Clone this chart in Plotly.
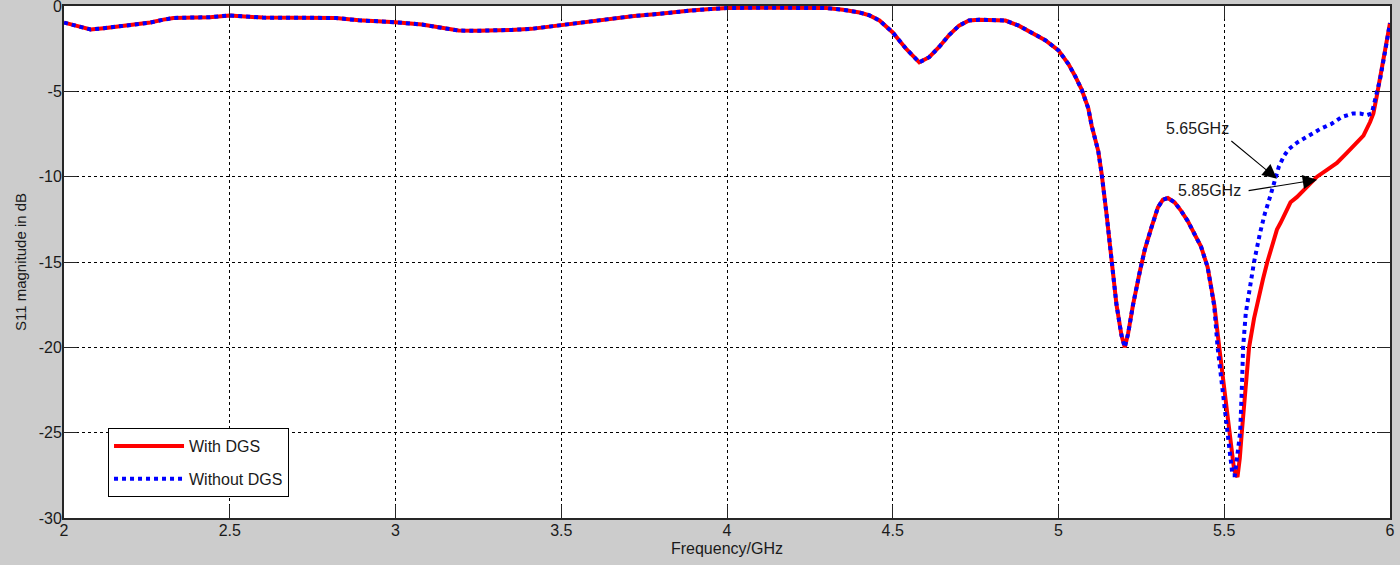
import plotly.graph_objects as go

# shared part of both sweeps (GHz, dB)
freq_common = [2.00, 2.04, 2.08, 2.12, 2.16, 2.20, 2.26, 2.30, 2.33, 2.40, 2.44, 2.50,
               2.55, 2.60, 2.70, 2.82, 2.89, 2.95, 3.00, 3.08, 3.14, 3.19, 3.25, 3.29,
               3.35, 3.41, 3.46, 3.50, 3.57, 3.64, 3.72, 3.79, 3.85, 3.89, 3.95, 4.00,
               4.10, 4.20, 4.30, 4.35, 4.40, 4.43, 4.46, 4.50, 4.54, 4.58, 4.61, 4.64,
               4.67, 4.70, 4.73, 4.76, 4.80, 4.84, 4.88, 4.92, 4.96, 5.00, 5.03, 5.05,
               5.07, 5.09, 5.10, 5.12, 5.13, 5.145, 5.16, 5.175, 5.19, 5.20, 5.21, 5.225,
               5.245, 5.26, 5.28, 5.30, 5.315, 5.33, 5.35, 5.37, 5.39, 5.41, 5.43, 5.45,
               5.465]
s11_common = [-0.97, -1.2, -1.38, -1.3, -1.2, -1.12, -0.97, -0.8, -0.7, -0.67, -0.66, -0.55,
              -0.64, -0.68, -0.69, -0.7, -0.84, -0.9, -0.95, -1.09, -1.28, -1.44, -1.45, -1.44,
              -1.4, -1.34, -1.22, -1.09, -0.9, -0.74, -0.58, -0.47, -0.33, -0.27, -0.18, -0.12,
              -0.1, -0.1, -0.12, -0.22, -0.38, -0.55, -0.85, -1.55, -2.5, -3.3, -3.0, -2.4,
              -1.7, -1.15, -0.85, -0.8, -0.8, -0.85, -1.15, -1.6, -2.0, -2.6, -3.4, -4.1,
              -4.9, -6.0, -7.0, -8.5, -9.8, -12.2, -15.0, -17.5, -19.3, -20.0, -19.2, -17.5,
              -15.6, -14.3, -13.0, -11.8, -11.35, -11.25, -11.5, -12.0, -12.6, -13.3, -14.1, -15.3,
              -16.8]

# with DGS, from where the two curves split
freq_dgs = [5.47, 5.485, 5.50, 5.515, 5.53, 5.54, 5.547, 5.553, 5.565, 5.575, 5.59, 5.602,
            5.617, 5.63, 5.645, 5.659, 5.67, 5.689, 5.70, 5.719, 5.75, 5.78, 5.81, 5.84,
            5.87, 5.90, 5.92, 5.94, 5.95, 5.96, 5.97, 5.985, 6.00]
s11_dgs = [-17.5, -20.0, -22.5, -25.0, -27.2, -27.6, -26.5, -25.0, -22.5, -20.0, -18.3, -17.2,
           -16.0, -15.0, -14.0, -13.1, -12.7, -11.9, -11.5, -11.2, -10.6, -10.0, -9.6, -9.2,
           -8.6, -8.0, -7.6, -6.8, -6.3, -5.3, -4.3, -2.7, -1.0]

# without DGS
freq_nodgs = [5.47, 5.48, 5.495, 5.51, 5.525, 5.532, 5.54, 5.548, 5.553, 5.557, 5.565, 5.578,
              5.59, 5.608, 5.622, 5.638, 5.65, 5.665, 5.68, 5.694, 5.72, 5.755, 5.79, 5.824,
              5.855, 5.888, 5.91, 5.93, 5.945, 5.955, 5.97, 5.985, 6.00]
s11_nodgs = [-17.6, -20.0, -22.5, -25.0, -27.5, -27.5, -26.3, -25.0, -22.5, -20.0, -18.0, -16.4,
             -15.0, -13.3, -12.2, -11.2, -10.3, -9.4, -8.8, -8.4, -8.0, -7.6, -7.2, -6.9,
             -6.5, -6.3, -6.3, -6.4, -6.3, -5.5, -4.3, -2.7, -1.0]

x_ticks = [2, 2.5, 3, 3.5, 4, 4.5, 5, 5.5, 6]
y_ticks = [-30, -25, -20, -15, -10, -5, 0]
y_ticktext = ["-30", "-25", "-20", "-15", "-10", "-5", "0"]

FONT = "Liberation Sans, Arial, sans-serif"
TXT = "#1a1a1a"
EPS = 1e-4

fig = go.Figure()
fig.add_trace(go.Scatter(
    x=freq_common + freq_dgs, y=s11_common + s11_dgs,
    mode="lines", name="With DGS", legendgroup="a",
    line=dict(color="#ff0000", width=4),
))
fig.add_trace(go.Scatter(
    x=freq_common + freq_nodgs, y=s11_common + s11_nodgs,
    mode="lines", name="Without DGS", legendgroup="b",
    line=dict(color="#0000ff", width=4, dash="dot"),
))

# marker labels with arrows
arrow = dict(showarrow=True, arrowhead=2, arrowsize=2.6, arrowwidth=1.1,
             arrowcolor="black", text="", xref="x", yref="y", axref="x", ayref="y")
fig.add_annotation(x=5.659, y=-10.12, ax=5.517, ay=-7.84, **arrow)
fig.add_annotation(x=5.78, y=-10.18, ax=5.569, ay=-10.83, **arrow)
fig.add_annotation(x=5.418, y=-7.19, text="5.65GHz", showarrow=False,
                   font=dict(size=16, color=TXT, family=FONT))
fig.add_annotation(x=5.457, y=-10.83, text="5.85GHz", showarrow=False,
                   font=dict(size=16, color=TXT, family=FONT))

axis_common = dict(
    showline=True, mirror="ticks", linecolor="#262626", linewidth=2,
    ticks="inside", ticklen=13, tickwidth=1, tickcolor="#262626",
    showgrid=True, gridcolor="black", gridwidth=1, griddash="dot",
    zeroline=False, automargin=False, ticklabeloverflow="allow",
    ticklabelstandoff=-3,
    tickfont=dict(size=16, color=TXT, family=FONT),
)

fig.update_layout(
    width=1400, height=565,
    margin=dict(l=64, r=10, t=6, b=47),
    paper_bgcolor="#cccccc", plot_bgcolor="white",
    font=dict(family=FONT, color=TXT),
    xaxis=dict(range=[2 - EPS, 6 + EPS], tickvals=x_ticks,
               title=dict(text="Frequency/GHz", font=dict(size=16), standoff=5),
               **axis_common),
    yaxis=dict(range=[-30 - EPS, 0 + EPS], tickvals=y_ticks, ticktext=y_ticktext,
               title=dict(text="S11 magnitude in dB", font=dict(size=15), standoff=8),
               **axis_common),
    legend=dict(x=0.0332, y=0.1758, xanchor="left", yanchor="top",
                bgcolor="white", bordercolor="black", borderwidth=1,
                itemwidth=70, tracegroupgap=9,
                entrywidth=125, entrywidthmode="pixels",
                font=dict(size=16, color=TXT, family=FONT)),
    showlegend=True,
)

fig.write_html("out.html", config={"displayModeBar": False},
               post_script="document.body.style.margin='0px';")
